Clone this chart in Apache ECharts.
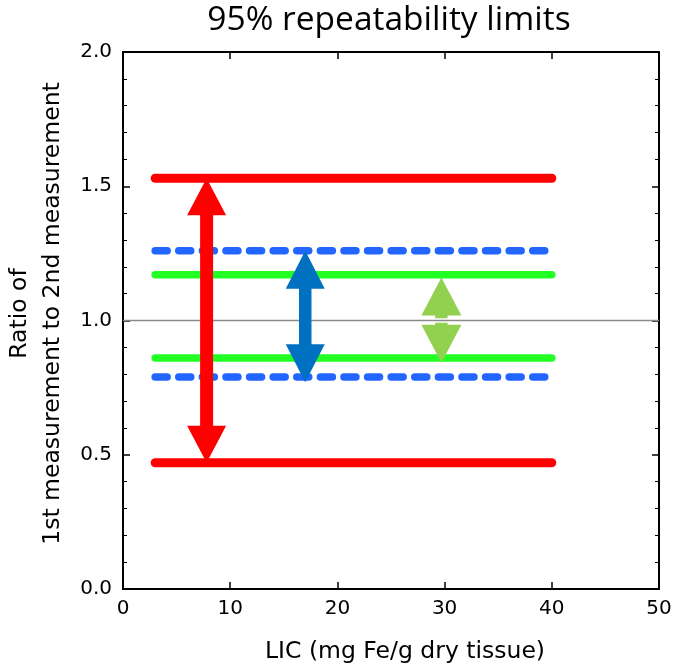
<!DOCTYPE html>
<html>
<head>
<meta charset="utf-8">
<script src="https://cdn.jsdelivr.net/npm/echarts@6/dist/echarts.min.js"></script>
<style>
html,body{margin:0;padding:0;background:#fff;}
#chart{width:673px;height:671px;}
</style>
</head>
<body>
<div id="chart"></div>
<script>
// ---- data ----
const xTicks = [0, 10, 20, 30, 40, 50];
const yTicks = [0.0, 0.5, 1.0, 1.5, 2.0];
const lineX = [3, 40];                 // LIC range of limit lines
const redLimits = [0.47, 1.53];        // lower, upper
const blueLimits = [0.79, 1.26];
const greenLimits = [0.86, 1.17];
const referenceRatio = 1.0;
// arrows: [x, lower tip, upper tip]
const redArrow = [7.8, 0.47, 1.53];
const blueArrow = [17.0, 0.77, 1.26];
const greenArrow = [29.7, 0.843, 1.16];

const FONT = '"DejaVu Sans", Verdana, sans-serif';
const chart = echarts.init(document.getElementById('chart'), null, {renderer: 'canvas'});

function hLine(v, color, width, type, z) {
  return {
    type: 'line', xAxisIndex: 0, yAxisIndex: 0, z: z,
    data: [[lineX[0], v], [lineX[1], v]],
    symbol: 'none', silent: true, animation: false,
    lineStyle: {color: color, width: width, type: type, cap: 'round'}
  };
}

function arrowSeries(arr, color, headW, headH, shaftW, gap, z) {
  return {
    type: 'custom', coordinateSystem: 'cartesian2d', z: z, silent: true, animation: false,
    data: [arr],
    encode: {x: 0, y: [1, 2]},
    renderItem: function (params, api) {
      const bot = api.coord([api.value(0), api.value(1)]);
      const top = api.coord([api.value(0), api.value(2)]);
      const cx = top[0], yT = top[1], yB = bot[1];
      const hw = headW / 2, sw = shaftW / 2;
      const style = {fill: color};
      if (gap > 0) {
        const mid = api.coord([api.value(0), referenceRatio])[1];
        const upPts = [[cx, yT], [cx + hw, yT + headH], [cx + sw, yT + headH], [cx + sw, mid - gap],
                       [cx - sw, mid - gap], [cx - sw, yT + headH], [cx - hw, yT + headH]];
        const dnPts = [[cx, yB], [cx + hw, yB - headH], [cx + sw, yB - headH], [cx + sw, mid + gap],
                       [cx - sw, mid + gap], [cx - sw, yB - headH], [cx - hw, yB - headH]];
        return {type: 'group', children: [
          {type: 'polygon', shape: {points: upPts}, style: style},
          {type: 'polygon', shape: {points: dnPts}, style: style}
        ]};
      }
      const pts = [[cx, yT], [cx + hw, yT + headH], [cx + sw, yT + headH], [cx + sw, yB - headH],
                   [cx + hw, yB - headH], [cx, yB], [cx - hw, yB - headH], [cx - sw, yB - headH],
                   [cx - sw, yT + headH], [cx - hw, yT + headH]];
      return {type: 'polygon', shape: {points: pts}, style: style};
    }
  };
}

const axisLineStyle = {show: true, onZero: false, lineStyle: {color: '#000', width: 2}};
const majorTick = {show: true, inside: true, length: 7, lineStyle: {color: '#000', width: 1.5}};
const minorTick = {show: true, splitNumber: 5, length: 4, lineStyle: {color: '#000', width: 1}};

chart.setOption({
  backgroundColor: '#fff',
  animation: false,
  title: {
    text: '95% repeatability limits',
    left: 384, top: -2, textAlign: 'center',
    textStyle: {fontFamily: '"Open Sans", sans-serif', fontSize: 33.5, fontWeight: 'normal', color: '#000'}
  },
  grid: {left: 123, right: 14, top: 52, bottom: 82, containLabel: false, outerBoundsMode: 'none'},
  xAxis: [{
    type: 'value', min: xTicks[0], max: xTicks[xTicks.length - 1], interval: 10,
    position: 'bottom',
    name: 'LIC (mg Fe/g dry tissue)', nameLocation: 'middle', nameGap: 51,
    nameTextStyle: {fontFamily: FONT, fontSize: 23.5, color: '#000', padding: [0, 0, 0, 28]},
    axisLine: axisLineStyle,
    axisTick: majorTick,
    axisLabel: {fontFamily: FONT, fontSize: 20, color: '#000', margin: 10},
    splitLine: {show: false}
  }, {
    type: 'value', min: xTicks[0], max: xTicks[xTicks.length - 1], interval: 10,
    position: 'top',
    axisLine: axisLineStyle,
    axisTick: majorTick,
    axisLabel: {show: false},
    splitLine: {show: false}
  }],
  yAxis: [{
    type: 'value', min: yTicks[0], max: yTicks[yTicks.length - 1], interval: 0.5,
    position: 'left',
    name: 'Ratio of\n1st measurement to 2nd measurement', nameLocation: 'middle', nameGap: 45,
    nameRotate: 90,
    nameTextStyle: {fontFamily: FONT, fontSize: 23.5, color: '#000', lineHeight: 33, align: 'center',
      padding: [0, 0, 0, 14]},
    axisLine: axisLineStyle,
    axisTick: majorTick,
    minorTick: minorTick,
    axisLabel: {fontFamily: FONT, fontSize: 20, color: '#000', margin: 11,
      formatter: function (v) { return v.toFixed(1); }},
    splitLine: {show: false}
  }, {
    type: 'value', min: yTicks[0], max: yTicks[yTicks.length - 1], interval: 0.5,
    position: 'right',
    axisLine: axisLineStyle,
    axisTick: majorTick,
    minorTick: minorTick,
    axisLabel: {show: false},
    splitLine: {show: false}
  }],
  series: [
    {
      type: 'line', xAxisIndex: 0, yAxisIndex: 0, z: 1, symbol: 'none', silent: true, animation: false,
      data: [[xTicks[0], referenceRatio], [xTicks[xTicks.length - 1], referenceRatio]],
      lineStyle: {color: '#8a8a8a', width: 1.5}
    },
    hLine(redLimits[0], '#ff0000', 9, 'solid', 2),
    hLine(redLimits[1], '#ff0000', 9, 'solid', 2),
    hLine(blueLimits[0], '#2266ff', 7.5, [12, 11.6], 2),
    hLine(blueLimits[1], '#2266ff', 7.5, [12, 11.6], 2),
    hLine(greenLimits[0], '#22ff22', 7.5, 'solid', 2),
    hLine(greenLimits[1], '#22ff22', 7.5, 'solid', 2),
    arrowSeries(redArrow, '#ff0000', 39, 37, 13, 0, 5),
    arrowSeries(blueArrow, '#0070c0', 39, 38, 12.5, 0, 5),
    arrowSeries(greenArrow, '#92d050', 40, 38, 12.5, 2.2, 5)
  ]
});
</script>
</body>
</html>
